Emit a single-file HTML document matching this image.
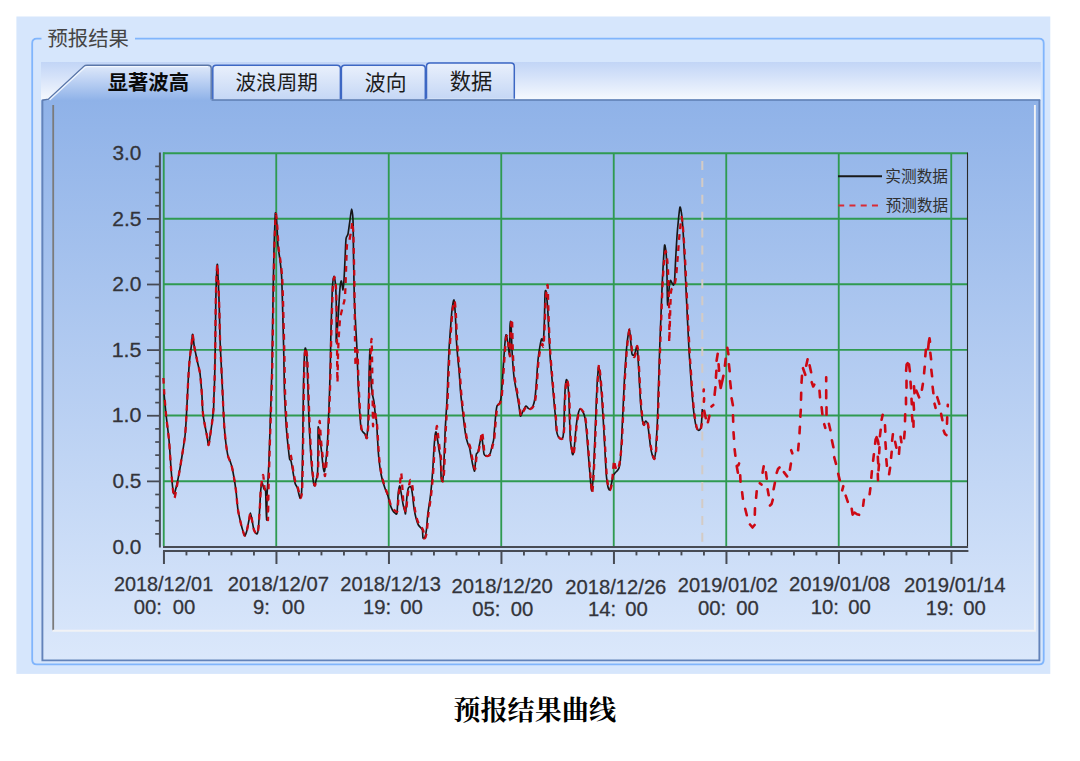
<!DOCTYPE html>
<html lang="zh-CN">
<head>
<meta charset="utf-8">
<title>预报结果曲线</title>
<style>
html,body{margin:0;padding:0;background:#fff}
body{width:1080px;height:761px;position:relative;overflow:hidden;font-family:"Liberation Sans",sans-serif;color:#33343a}
.ov{position:absolute;left:0;top:0;display:block}
</style>
</head>
<body>
<!-- window chrome: group box, tab strip, tab page -->
<svg class="ov" width="1080" height="761" viewBox="0 0 1080 761">
<defs>
<linearGradient id="gs" x1="0" y1="0" x2="0" y2="1"><stop offset="0" stop-color="#c2d5f6"/><stop offset="0.35" stop-color="#d3e1f9"/><stop offset="1" stop-color="#f6f9fe"/></linearGradient>
<linearGradient id="gc" x1="0" y1="0" x2="0" y2="1"><stop offset="0" stop-color="#8fb2e8"/><stop offset="1" stop-color="#dbe8fb"/></linearGradient>
<linearGradient id="gt" x1="0" y1="0" x2="0" y2="1"><stop offset="0" stop-color="#e9f0fc"/><stop offset="0.55" stop-color="#d5e2f8"/><stop offset="1" stop-color="#c5d7f5"/></linearGradient>
<linearGradient id="tg" x1="0" y1="0" x2="0" y2="1"><stop offset="0" stop-color="#dfe9fa"/><stop offset="0.45" stop-color="#bcd1f3"/><stop offset="1" stop-color="#8fb2e8"/></linearGradient>
</defs>
<rect x="16.4" y="16.5" width="1033.9" height="657.4" fill="#d6e6fc"/>
<rect x="41" y="62" width="999.8" height="38" fill="url(#gs)"/>
<rect x="41.5" y="99.5" width="998.6" height="561.6" fill="url(#gc)"/>
<!-- unselected tabs -->
<g fill="url(#gt)" stroke="#3d67c3" stroke-width="1.5">
<path d="M212.8 99.6 V68.6 Q212.8 65.3 216 65.3 H337 Q340.4 65.3 340.4 68.6 V99.6"/>
<path d="M341.4 99.6 V68.6 Q341.4 65.3 344.6 65.3 H422 Q425.3 65.3 425.3 68.6 V99.6"/>
<path d="M426.5 98.8 V66.4 Q426.5 63 429.8 63 H511 Q514.3 63 514.3 66.4 V98.8"/>
</g>
<!-- group box outline with gap for the caption -->
<path d="M41.5 38.6 H36.8 Q32.2 38.6 32.2 43.2 V659.8 Q32.2 664.4 36.8 664.4 H1039.1 Q1043.7 664.4 1043.7 659.8 V43.2 Q1043.7 38.6 1039.1 38.6 H135" fill="none" stroke="#80b5fc" stroke-width="1.8"/>
<!-- tab page border -->
<path d="M42.4 100.2 V660.4 H1039.4 V100.2" fill="none" stroke="#6383ba" stroke-width="1.9"/>
<path d="M211.5 100 H1040.3" fill="none" stroke="#5c7cb2" stroke-width="1.5"/>
<!-- sunken chart control edges -->
<path d="M53.2 105 V630.4" fill="none" stroke="#7b7b7b" stroke-width="1.8"/>
<path d="M52.4 630.8 H1034.9 V105" fill="none" stroke="#f1f2f5" stroke-width="1.9"/>
<!-- selected tab -->
<path d="M42.2 100.4 L48 99.4 L84 66.2 Q85 65.2 87 65.2 L208 65.2 Q211.2 65.2 211.2 68 L211.2 100.4 Z" fill="url(#tg)"/>
<path d="M42.2 100.2 L48.4 99.2 L84 66.2 Q85 65.2 87 65.2 L208 65.2 Q211.2 65.2 211.2 68 L211.2 99.6" fill="none" stroke="#5a76a8" stroke-width="1.4"/>
<path d="M49.6 100 L85 67.2 Q86 66.6 87.4 66.6 L208 66.6" fill="none" stroke="#f4f8fe" stroke-width="1.3" opacity="0.9"/>
</svg>
<svg class="ov" width="1080" height="761" viewBox="0 0 1080 761">
<text x="47.53" y="45.51" font-size="20.35" textLength="81.4" lengthAdjust="spacingAndGlyphs" fill="#454545" font-family="'Liberation Sans','Noto Sans CJK SC',sans-serif">预报结果</text>
<text x="107.69" y="90.38" font-size="20.3" font-weight="bold" textLength="81.3" lengthAdjust="spacingAndGlyphs" fill="#0a0a0a" font-family="'Liberation Sans','Noto Sans CJK SC',sans-serif">显著波高</text>
<text x="235.52" y="89.83" font-size="20.6" textLength="82.4" lengthAdjust="spacingAndGlyphs" fill="#1c1c1c" font-family="'Liberation Sans','Noto Sans CJK SC',sans-serif">波浪周期</text>
<text x="364.81" y="89.73" font-size="20.87" textLength="41.7" lengthAdjust="spacingAndGlyphs" fill="#1c1c1c" font-family="'Liberation Sans','Noto Sans CJK SC',sans-serif">波向</text>
<text x="449.77" y="88.84" font-size="21.37" textLength="42.7" lengthAdjust="spacingAndGlyphs" fill="#1c1c1c" font-family="'Liberation Sans','Noto Sans CJK SC',sans-serif">数据</text>
<g stroke="#2f9a50" stroke-width="1.85" fill="none"><line x1="276.25" y1="153.25" x2="276.25" y2="546" /><line x1="388.75" y1="153.25" x2="388.75" y2="546" /><line x1="501.25" y1="153.25" x2="501.25" y2="546" /><line x1="613.75" y1="153.25" x2="613.75" y2="546" /><line x1="726.25" y1="153.25" x2="726.25" y2="546" /><line x1="838.75" y1="153.25" x2="838.75" y2="546" /><line x1="951.25" y1="153.25" x2="951.25" y2="546" /><line x1="163" y1="153.25" x2="967.50" y2="153.25" /><line x1="163" y1="218.75" x2="967.50" y2="218.75" /><line x1="163" y1="284.25" x2="967.50" y2="284.25" /><line x1="163" y1="349.90" x2="967.50" y2="349.90" /><line x1="163" y1="415.50" x2="967.50" y2="415.50" /><line x1="163" y1="481.25" x2="967.50" y2="481.25" /><line x1="163.75" y1="152.6" x2="163.75" y2="546" /></g>
<line x1="967.50" y1="152.6" x2="967.50" y2="548" stroke="#2a2a2a" stroke-width="1.1"/>
<line x1="702.3" y1="161" x2="702.3" y2="546" stroke="#d3cbc5" stroke-width="2" stroke-dasharray="9 7.9"/>
<path fill="none" stroke="#161616" stroke-width="1.65" stroke-linejoin="round" d="M163.8 391.0C164.1 394.1 165.3 407.5 166.0 414.0C166.7 420.5 168.3 432.8 169.0 440.0C169.7 447.2 170.5 461.9 171.0 468.0C171.5 474.1 172.1 482.5 172.5 486.0C172.9 489.5 173.5 493.7 174.0 494.0C174.5 494.3 175.3 490.7 176.0 488.0C176.7 485.3 178.2 478.3 179.0 474.0C179.8 469.7 181.2 461.1 182.0 456.0C182.8 450.9 184.4 441.3 185.0 436.0C185.6 430.7 186.0 422.9 186.4 416.0C186.8 409.1 187.6 391.5 188.0 384.0C188.4 376.5 189.1 365.3 189.6 360.0C190.1 354.7 191.2 347.4 191.6 344.0C192.0 340.6 192.3 334.1 192.6 334.4C192.9 334.7 193.8 343.4 194.2 346.0C194.6 348.6 195.4 352.1 195.8 354.0C196.2 355.9 196.7 358.4 197.0 360.0C197.3 361.6 198.0 364.4 198.4 366.0C198.8 367.6 199.5 370.3 199.8 372.0C200.1 373.7 200.4 377.1 200.6 379.0C200.8 380.9 201.0 383.7 201.2 386.0C201.4 388.3 201.8 392.5 202.0 396.0C202.2 399.5 202.4 408.0 202.8 412.0C203.2 416.0 204.4 422.8 205.0 426.0C205.6 429.2 206.5 433.5 207.0 436.0C207.5 438.5 208.1 445.3 208.6 445.0C209.1 444.7 209.9 437.3 210.4 434.0C210.9 430.7 212.0 423.5 212.4 420.0C212.8 416.5 213.4 410.7 213.6 408.0C213.8 405.3 213.7 403.7 213.8 400.0C213.9 396.3 214.4 386.7 214.6 380.0C214.8 373.3 215.0 360.7 215.2 350.0C215.4 339.3 215.6 310.1 215.8 300.0C216.0 289.9 216.4 278.7 216.6 274.0C216.8 269.3 217.2 263.1 217.4 264.4C217.6 265.7 218.1 277.7 218.4 284.0C218.7 290.3 219.2 304.8 219.4 312.0C219.6 319.2 219.8 331.6 220.0 338.0C220.2 344.4 220.7 354.4 221.0 360.0C221.3 365.6 221.7 373.9 222.0 380.0C222.3 386.1 222.9 399.6 223.2 406.0C223.5 412.4 224.0 422.9 224.4 428.0C224.8 433.1 225.5 440.3 226.0 444.0C226.5 447.7 227.4 453.6 228.0 456.0C228.6 458.4 229.8 460.3 230.4 462.0C231.0 463.7 231.9 466.6 232.4 469.0C232.9 471.4 233.9 477.1 234.4 480.0C234.9 482.9 235.5 487.0 236.0 491.0C236.5 495.0 237.3 505.6 238.0 510.0C238.7 514.4 240.3 520.9 241.0 524.0C241.7 527.1 243.1 531.5 243.6 533.0C244.1 534.5 244.5 536.0 245.0 535.6C245.5 535.2 246.5 532.1 247.0 530.0C247.5 527.9 248.5 522.3 249.0 520.0C249.5 517.7 250.0 513.0 250.4 513.0C250.8 513.0 251.5 517.7 252.0 520.0C252.5 522.3 253.3 528.1 254.0 530.0C254.7 531.9 256.4 534.3 257.0 534.0C257.6 533.7 258.1 531.2 258.4 528.0C258.7 524.8 259.3 514.8 259.6 510.0C259.9 505.2 260.3 495.6 260.6 492.0C260.9 488.4 261.5 483.4 262.0 483.0C262.5 482.6 263.5 487.9 264.0 489.0C264.5 490.1 265.3 486.9 265.6 491.0C265.9 495.1 266.3 519.9 266.5 520.0C266.7 520.1 267.0 497.3 267.2 492.0C267.4 486.7 267.8 484.3 268.0 480.0C268.2 475.7 268.7 466.7 269.0 460.0C269.3 453.3 269.7 438.0 270.0 430.0C270.3 422.0 270.7 408.7 271.0 400.0C271.3 391.3 271.7 378.3 272.0 365.0C272.3 351.7 272.7 315.3 273.0 300.0C273.3 284.7 273.7 260.7 274.0 250.0C274.3 239.3 274.8 224.9 275.0 220.0C275.2 215.1 275.3 212.2 275.6 213.0C275.9 213.8 276.7 221.6 277.0 226.0C277.3 230.4 277.6 241.5 278.0 246.0C278.4 250.5 279.5 256.0 280.0 260.0C280.5 264.0 281.3 270.7 281.6 276.0C281.9 281.3 282.2 292.8 282.4 300.0C282.6 307.2 283.0 322.7 283.2 330.0C283.4 337.3 283.6 347.0 283.8 355.0C284.0 363.0 284.2 381.9 284.4 390.0C284.6 398.1 285.3 409.9 285.6 416.0C285.9 422.1 286.6 431.6 287.0 436.0C287.4 440.4 288.1 445.9 288.4 449.0C288.7 452.1 289.3 457.4 289.6 459.0C289.9 460.6 290.5 459.3 291.0 461.0C291.5 462.7 292.5 469.1 293.0 472.0C293.5 474.9 294.5 481.0 295.0 483.0C295.5 485.0 296.5 485.8 297.0 487.0C297.5 488.2 298.0 490.5 298.4 492.0C298.8 493.5 299.6 498.0 300.0 498.0C300.4 498.0 301.3 496.4 301.6 492.0C301.9 487.6 302.2 474.6 302.4 465.0C302.6 455.4 302.8 431.3 303.0 420.0C303.2 408.7 303.4 388.5 303.6 380.0C303.8 371.5 304.2 360.3 304.4 356.0C304.6 351.7 305.1 347.5 305.4 348.0C305.7 348.5 306.7 354.4 307.0 360.0C307.3 365.6 307.7 382.0 308.0 390.0C308.3 398.0 308.7 412.3 309.0 420.0C309.3 427.7 310.0 441.3 310.4 448.0C310.8 454.7 311.6 465.5 312.0 470.0C312.4 474.5 313.1 479.9 313.4 482.0C313.7 484.1 314.2 486.0 314.6 485.6C315.0 485.2 316.0 480.8 316.4 479.0C316.8 477.2 317.4 475.9 317.6 472.0C317.8 468.1 317.9 456.0 318.0 450.0C318.1 444.0 317.9 428.3 318.2 427.0C318.5 425.7 319.5 436.7 320.0 440.0C320.5 443.3 321.2 448.5 321.6 452.0C322.0 455.5 322.6 463.4 323.0 466.0C323.4 468.6 324.0 472.4 324.4 471.6C324.8 470.8 325.6 464.2 326.0 460.0C326.4 455.8 327.3 445.9 327.6 440.0C327.9 434.1 328.3 422.7 328.6 416.0C328.9 409.3 329.4 397.5 329.6 390.0C329.8 382.5 330.2 368.0 330.4 360.0C330.6 352.0 330.7 339.6 331.0 330.0C331.3 320.4 332.0 295.1 332.4 288.0C332.8 280.9 333.6 276.7 334.0 276.4C334.4 276.1 335.3 281.5 335.6 286.0C335.9 290.5 336.3 302.5 336.4 310.0C336.5 317.5 336.0 340.7 336.2 342.0C336.4 343.3 337.5 327.2 338.0 320.0C338.5 312.8 339.5 293.2 340.0 288.0C340.5 282.8 341.0 280.7 341.4 281.0C341.8 281.3 342.7 290.1 343.0 290.0C343.3 289.9 343.7 284.0 344.0 280.0C344.3 276.0 344.7 265.5 345.0 260.0C345.3 254.5 345.6 242.5 346.0 239.0C346.4 235.5 347.5 236.5 348.0 234.0C348.5 231.5 349.5 223.3 350.0 220.0C350.5 216.7 351.2 209.0 351.6 209.0C352.0 209.0 352.7 213.2 353.0 220.0C353.3 226.8 353.4 249.3 353.6 260.0C353.8 270.7 354.1 291.5 354.4 300.0C354.7 308.5 355.3 317.3 355.6 324.0C355.9 330.7 356.7 342.5 357.0 350.0C357.3 357.5 357.7 372.0 358.0 380.0C358.3 388.0 359.2 403.6 359.6 410.0C360.0 416.4 360.5 425.1 361.0 428.0C361.5 430.9 362.5 431.2 363.0 432.0C363.5 432.8 364.5 433.2 365.0 434.0C365.5 434.8 366.2 439.3 366.6 438.0C367.0 436.7 367.7 429.1 368.0 424.0C368.3 418.9 368.4 407.2 368.6 400.0C368.8 392.8 369.0 376.8 369.2 370.0C369.4 363.2 369.8 348.7 370.0 349.0C370.2 349.3 370.3 366.3 370.6 372.0C370.9 377.7 371.5 388.0 372.0 392.0C372.5 396.0 373.5 398.5 374.0 402.0C374.5 405.5 375.3 415.6 375.6 418.0C375.9 420.4 376.1 417.1 376.4 420.0C376.7 422.9 377.3 434.7 377.6 440.0C377.9 445.3 378.5 455.5 379.0 460.0C379.5 464.5 380.4 470.8 381.0 474.0C381.6 477.2 382.9 481.7 383.6 484.0C384.3 486.3 385.4 489.4 386.0 491.0C386.6 492.6 387.5 494.3 388.0 496.0C388.5 497.7 389.4 502.1 390.0 504.0C390.6 505.9 391.7 508.8 392.4 510.0C393.1 511.2 394.4 512.6 395.0 513.0C395.6 513.4 396.6 515.3 397.0 513.0C397.4 510.7 397.7 499.6 398.0 496.0C398.3 492.4 399.2 486.5 399.6 486.0C400.0 485.5 400.5 489.6 401.0 492.0C401.5 494.4 402.5 501.3 403.0 504.0C403.5 506.7 404.7 510.8 405.0 512.0C405.3 513.2 405.3 515.1 405.6 513.0C405.9 510.9 406.6 499.3 407.0 496.0C407.4 492.7 407.9 489.2 408.4 488.0C408.9 486.8 410.5 486.2 411.0 487.0C411.5 487.8 412.0 491.2 412.4 494.0C412.8 496.8 413.5 504.8 414.0 508.0C414.5 511.2 415.4 515.7 416.0 518.0C416.6 520.3 417.7 523.7 418.4 525.0C419.1 526.3 420.5 527.3 421.0 528.0C421.5 528.7 422.1 528.7 422.4 530.0C422.7 531.3 422.7 537.1 423.0 538.0C423.3 538.9 424.5 538.1 425.0 537.0C425.5 535.9 426.1 532.8 426.4 530.0C426.7 527.2 427.3 519.2 427.6 516.0C427.9 512.8 428.6 508.7 429.0 506.0C429.4 503.3 430.0 499.5 430.4 496.0C430.8 492.5 431.7 484.0 432.0 480.0C432.3 476.0 432.7 470.3 433.0 466.0C433.3 461.7 433.7 452.0 434.0 448.0C434.3 444.0 434.7 438.1 435.0 436.0C435.3 433.9 435.7 431.5 436.0 432.0C436.3 432.5 437.2 437.6 437.6 440.0C438.0 442.4 438.6 447.6 439.0 450.0C439.4 452.4 440.1 454.3 440.4 458.0C440.7 461.7 440.9 474.9 441.2 478.0C441.5 481.1 442.3 482.1 442.6 481.0C442.9 479.9 443.4 474.1 443.6 470.0C443.8 465.9 444.2 455.3 444.4 450.0C444.6 444.7 445.0 434.5 445.2 430.0C445.4 425.5 445.8 420.0 446.0 416.0C446.2 412.0 446.7 405.6 447.0 400.0C447.3 394.4 447.7 380.7 448.0 374.0C448.3 367.3 448.7 355.9 449.0 350.0C449.3 344.1 450.0 335.3 450.4 330.0C450.8 324.7 451.5 314.0 452.0 310.0C452.5 306.0 453.5 299.2 454.0 300.0C454.5 300.8 455.1 310.7 455.4 316.0C455.7 321.3 456.1 334.7 456.4 340.0C456.7 345.3 457.3 352.0 457.6 356.0C457.9 360.0 458.6 365.5 459.0 370.0C459.4 374.5 460.1 385.7 460.4 390.0C460.7 394.3 461.3 398.8 461.6 402.0C461.9 405.2 462.6 410.8 463.0 414.0C463.4 417.2 464.0 422.9 464.4 426.0C464.8 429.1 465.5 434.6 466.0 437.0C466.5 439.4 467.5 442.5 468.0 444.0C468.5 445.5 469.2 446.4 469.6 448.0C470.0 449.6 470.5 453.6 471.0 456.0C471.5 458.4 472.5 464.0 473.0 466.0C473.5 468.0 474.3 471.8 474.6 471.0C474.9 470.2 475.4 462.3 475.6 460.0C475.8 457.7 476.1 455.1 476.4 454.0C476.7 452.9 477.6 453.3 478.0 452.0C478.4 450.7 479.2 445.9 479.6 444.0C480.0 442.1 480.7 438.8 481.0 438.0C481.3 437.2 481.7 436.9 482.0 438.0C482.3 439.1 482.7 443.9 483.0 446.0C483.3 448.1 483.6 452.7 484.0 454.0C484.4 455.3 485.4 455.8 486.0 456.0C486.6 456.2 487.8 456.0 488.4 455.6C489.0 455.2 489.9 454.3 490.4 453.0C490.9 451.7 491.6 447.7 492.0 446.0C492.4 444.3 493.3 442.1 493.6 440.0C493.9 437.9 494.1 433.2 494.4 430.0C494.7 426.8 495.3 419.2 495.6 416.0C495.9 412.8 496.5 407.7 497.0 406.0C497.5 404.3 499.1 404.1 499.6 403.0C500.1 401.9 500.6 401.1 501.0 398.0C501.4 394.9 502.0 385.6 502.4 380.0C502.8 374.4 503.6 361.6 504.0 356.0C504.4 350.4 505.1 340.8 505.4 338.0C505.7 335.2 506.1 334.2 506.4 335.0C506.7 335.8 507.6 341.5 508.0 344.0C508.4 346.5 509.3 356.4 509.6 354.0C509.9 351.6 509.8 330.1 510.0 326.0C510.2 321.9 510.7 319.8 511.0 323.0C511.3 326.2 511.7 344.3 512.0 350.0C512.3 355.7 512.7 362.0 513.0 366.0C513.3 370.0 513.9 376.3 514.4 380.0C514.9 383.7 516.4 390.5 517.0 394.0C517.6 397.5 518.5 403.1 519.0 406.0C519.5 408.9 519.9 415.3 520.4 416.0C520.9 416.7 522.3 412.3 523.0 411.0C523.7 409.7 525.3 406.4 526.0 406.0C526.7 405.6 527.5 407.6 528.0 408.0C528.5 408.4 529.3 409.3 530.0 409.0C530.7 408.7 532.3 407.5 533.0 406.0C533.7 404.5 534.5 401.2 535.0 398.0C535.5 394.8 536.0 387.1 536.4 382.0C536.8 376.9 537.5 364.8 538.0 360.0C538.5 355.2 539.5 348.8 540.0 346.0C540.5 343.2 541.1 339.8 541.6 339.0C542.1 338.2 543.0 342.5 543.4 340.0C543.8 337.5 544.2 326.1 544.4 320.0C544.6 313.9 544.8 297.9 545.0 294.0C545.2 290.1 545.7 290.2 546.0 291.0C546.3 291.8 546.7 296.9 547.0 300.0C547.3 303.1 547.7 309.2 548.0 314.0C548.3 318.8 548.7 330.7 549.0 336.0C549.3 341.3 549.7 348.9 550.0 354.0C550.3 359.1 551.2 369.2 551.6 374.0C552.0 378.8 552.6 385.7 553.0 390.0C553.4 394.3 554.1 402.5 554.4 406.0C554.7 409.5 555.1 412.8 555.4 416.0C555.7 419.2 556.0 427.2 556.4 430.0C556.8 432.8 557.8 435.8 558.4 437.0C559.0 438.2 560.4 439.0 561.0 439.0C561.6 439.0 562.6 439.0 563.0 437.0C563.4 435.0 563.8 428.9 564.0 424.0C564.2 419.1 564.4 405.3 564.6 400.0C564.8 394.7 565.3 386.7 565.6 384.0C565.9 381.3 566.3 379.3 566.6 379.6C566.9 379.9 567.7 383.3 568.0 386.0C568.3 388.7 568.8 395.5 569.0 400.0C569.2 404.5 569.4 414.7 569.6 420.0C569.8 425.3 570.1 435.7 570.4 440.0C570.7 444.3 571.7 450.1 572.0 452.0C572.3 453.9 572.7 455.2 573.0 454.4C573.3 453.6 574.1 449.0 574.4 446.0C574.7 443.0 575.3 435.5 575.6 432.0C575.9 428.5 576.6 422.5 577.0 420.0C577.4 417.5 578.0 414.5 578.4 413.0C578.8 411.5 579.4 409.1 580.0 409.0C580.6 408.9 582.3 410.8 583.0 412.0C583.7 413.2 584.5 415.6 585.0 418.0C585.5 420.4 586.0 425.7 586.4 430.0C586.8 434.3 587.6 444.7 588.0 450.0C588.4 455.3 589.2 465.2 589.6 470.0C590.0 474.8 590.7 483.3 591.0 486.0C591.3 488.7 591.5 491.3 591.8 490.5C592.1 489.7 592.7 484.1 593.0 480.0C593.3 475.9 593.7 465.9 594.0 460.0C594.3 454.1 594.7 442.7 595.0 436.0C595.3 429.3 595.7 416.7 596.0 410.0C596.3 403.3 596.7 391.1 597.0 386.0C597.3 380.9 597.8 374.5 598.0 372.0C598.2 369.5 598.5 365.9 598.8 367.0C599.1 368.1 600.0 375.6 600.4 380.0C600.8 384.4 601.6 393.9 602.0 400.0C602.4 406.1 603.2 419.1 603.6 426.0C604.0 432.9 604.6 445.3 605.0 452.0C605.4 458.7 606.0 471.3 606.4 476.0C606.8 480.7 607.6 485.2 608.0 487.0C608.4 488.8 609.1 490.2 609.6 489.8C610.1 489.4 610.9 485.8 611.4 484.0C611.9 482.2 612.5 477.5 613.0 476.0C613.5 474.5 614.5 473.7 615.0 473.0C615.5 472.3 616.5 471.7 617.0 471.0C617.5 470.3 618.5 469.5 619.0 468.0C619.5 466.5 620.1 463.7 620.4 460.0C620.7 456.3 621.3 446.7 621.6 440.0C621.9 433.3 622.6 418.0 623.0 410.0C623.4 402.0 624.0 387.2 624.4 380.0C624.8 372.8 625.7 360.8 626.0 356.0C626.3 351.2 626.7 346.7 627.0 344.0C627.3 341.3 627.7 337.9 628.0 336.0C628.3 334.1 629.0 328.5 629.4 329.6C629.8 330.7 630.7 340.7 631.0 344.0C631.3 347.3 631.6 352.5 632.0 354.0C632.4 355.5 633.5 355.4 634.0 355.0C634.5 354.6 635.3 352.1 635.6 351.0C635.9 349.9 636.3 346.6 636.6 346.5C636.9 346.4 637.4 347.7 637.6 350.0C637.8 352.3 638.1 359.2 638.4 364.0C638.7 368.8 639.3 380.1 639.6 386.0C639.9 391.9 640.6 403.5 641.0 408.0C641.4 412.5 642.1 417.7 642.4 420.0C642.7 422.3 643.2 424.9 643.6 425.0C644.0 425.1 645.1 421.1 645.6 421.0C646.1 420.9 647.1 422.3 647.6 424.0C648.1 425.7 648.6 431.1 649.0 434.0C649.4 436.9 650.0 443.3 650.4 446.0C650.8 448.7 651.5 452.3 652.0 454.0C652.5 455.7 653.5 459.1 654.0 458.8C654.5 458.5 655.3 455.0 655.6 452.0C655.9 449.0 656.3 440.8 656.6 436.0C656.9 431.2 657.4 422.1 657.6 416.0C657.8 409.9 658.2 396.9 658.4 390.0C658.6 383.1 659.0 370.7 659.2 364.0C659.4 357.3 659.8 345.2 660.0 340.0C660.2 334.8 660.4 329.8 660.6 325.0C660.8 320.2 661.2 310.0 661.4 304.0C661.6 298.0 662.1 286.1 662.4 280.0C662.7 273.9 663.3 262.7 663.6 258.0C663.9 253.3 664.3 245.8 664.6 245.0C664.9 244.2 665.7 249.2 666.0 252.0C666.3 254.8 666.6 260.9 666.8 266.0C667.0 271.1 667.1 284.8 667.2 290.0C667.3 295.2 667.4 304.5 667.6 305.0C667.8 305.5 668.3 296.8 668.6 294.0C668.9 291.2 669.3 285.8 669.6 284.0C669.9 282.2 670.3 280.5 670.6 280.4C670.9 280.3 671.6 282.4 672.0 283.0C672.4 283.6 673.3 285.4 673.6 285.0C673.9 284.6 674.3 283.3 674.6 280.0C674.9 276.7 675.3 265.9 675.6 260.0C675.9 254.1 676.6 241.6 677.0 236.0C677.4 230.4 678.2 221.9 678.6 218.0C679.0 214.1 679.6 207.5 680.0 207.0C680.4 206.5 681.2 210.9 681.6 214.0C682.0 217.1 682.6 224.4 683.0 230.0C683.4 235.6 684.1 249.3 684.4 256.0C684.7 262.7 685.3 272.8 685.6 280.0C685.9 287.2 686.7 303.3 687.0 310.0C687.3 316.7 687.7 324.7 688.0 330.0C688.3 335.3 688.8 345.7 689.0 350.0C689.2 354.3 689.5 358.0 689.8 362.0C690.1 366.0 690.7 375.2 691.0 380.0C691.3 384.8 692.0 393.5 692.4 398.0C692.8 402.5 693.5 410.3 694.0 414.0C694.5 417.7 695.5 423.9 696.0 426.0C696.5 428.1 697.5 429.5 698.0 430.0C698.5 430.5 699.5 430.4 700.0 429.6C700.5 428.8 701.1 426.7 701.4 424.0C701.7 421.3 702.2 411.0 702.3 409.0"/>
<path fill="none" stroke="#c80913" stroke-width="2.3" stroke-linejoin="round" stroke-dasharray="5.7 5.3" d="M163.4 378.0C163.5 379.9 163.9 387.2 164.2 392.0C164.5 396.8 165.4 407.6 166.0 414.0C166.6 420.4 168.3 432.8 169.0 440.0C169.7 447.2 170.5 461.3 171.0 468.0C171.5 474.7 172.5 486.0 173.0 490.0C173.5 494.0 173.9 498.1 174.4 498.0C174.9 497.9 175.8 492.2 176.4 489.0C177.0 485.8 178.3 478.4 179.0 474.0C179.7 469.6 181.2 461.1 182.0 456.0C182.8 450.9 184.4 441.3 185.0 436.0C185.6 430.7 186.0 422.9 186.4 416.0C186.8 409.1 187.6 391.5 188.0 384.0C188.4 376.5 189.1 365.3 189.6 360.0C190.1 354.7 191.2 347.4 191.6 344.0C192.0 340.6 192.3 334.1 192.6 334.4C192.9 334.7 193.8 343.4 194.2 346.0C194.6 348.6 195.4 352.1 195.8 354.0C196.2 355.9 196.7 358.4 197.0 360.0C197.3 361.6 198.0 364.4 198.4 366.0C198.8 367.6 199.5 370.3 199.8 372.0C200.1 373.7 200.4 377.1 200.6 379.0C200.8 380.9 201.0 383.7 201.2 386.0C201.4 388.3 201.8 392.5 202.0 396.0C202.2 399.5 202.4 408.0 202.8 412.0C203.2 416.0 204.4 422.8 205.0 426.0C205.6 429.2 206.5 433.5 207.0 436.0C207.5 438.5 208.1 445.3 208.6 445.0C209.1 444.7 209.9 437.3 210.4 434.0C210.9 430.7 212.0 423.5 212.4 420.0C212.8 416.5 213.4 410.7 213.6 408.0C213.8 405.3 213.7 403.7 213.8 400.0C213.9 396.3 214.4 386.7 214.6 380.0C214.8 373.3 215.0 360.7 215.2 350.0C215.4 339.3 215.6 310.1 215.8 300.0C216.0 289.9 216.4 278.7 216.6 274.0C216.8 269.3 217.2 263.1 217.4 264.4C217.6 265.7 218.1 277.7 218.4 284.0C218.7 290.3 219.2 304.8 219.4 312.0C219.6 319.2 219.8 331.6 220.0 338.0C220.2 344.4 220.7 354.4 221.0 360.0C221.3 365.6 221.7 373.9 222.0 380.0C222.3 386.1 222.9 399.6 223.2 406.0C223.5 412.4 224.0 422.9 224.4 428.0C224.8 433.1 225.5 440.3 226.0 444.0C226.5 447.7 227.4 453.6 228.0 456.0C228.6 458.4 229.8 460.3 230.4 462.0C231.0 463.7 231.9 466.6 232.4 469.0C232.9 471.4 233.9 477.1 234.4 480.0C234.9 482.9 235.5 487.0 236.0 491.0C236.5 495.0 237.3 505.6 238.0 510.0C238.7 514.4 240.3 520.9 241.0 524.0C241.7 527.1 243.1 531.5 243.6 533.0C244.1 534.5 244.5 536.0 245.0 535.6C245.5 535.2 246.5 532.1 247.0 530.0C247.5 527.9 248.5 522.3 249.0 520.0C249.5 517.7 250.0 513.0 250.4 513.0C250.8 513.0 251.5 517.7 252.0 520.0C252.5 522.3 253.3 528.1 254.0 530.0C254.7 531.9 256.4 534.3 257.0 534.0C257.6 533.7 258.0 531.5 258.4 528.0C258.8 524.5 259.5 513.1 259.8 508.0C260.1 502.9 260.4 494.4 260.8 490.0C261.2 485.6 262.5 475.3 263.0 475.0C263.5 474.7 264.2 485.7 264.6 488.0C265.0 490.3 265.6 490.4 266.0 492.0C266.4 493.6 267.3 496.3 267.6 500.0C267.9 503.7 267.9 521.9 268.0 520.0C268.1 518.1 268.4 494.0 268.6 486.0C268.8 478.0 269.2 467.5 269.4 460.0C269.6 452.5 270.0 438.0 270.3 430.0C270.6 422.0 271.0 408.7 271.3 400.0C271.6 391.3 272.0 378.3 272.3 365.0C272.6 351.7 273.0 315.3 273.3 300.0C273.6 284.7 274.0 260.4 274.3 250.0C274.6 239.6 275.1 226.8 275.3 222.0C275.5 217.2 275.7 213.2 276.0 214.0C276.3 214.8 277.1 223.5 277.4 228.0C277.7 232.5 278.2 243.5 278.6 248.0C279.0 252.5 280.1 258.0 280.6 262.0C281.1 266.0 281.9 272.9 282.2 278.0C282.5 283.1 282.8 293.1 283.0 300.0C283.2 306.9 283.6 322.7 283.8 330.0C284.0 337.3 284.2 347.0 284.4 355.0C284.6 363.0 284.8 381.9 285.0 390.0C285.2 398.1 285.9 409.9 286.2 416.0C286.5 422.1 287.2 431.6 287.6 436.0C288.0 440.4 288.5 446.3 289.0 449.0C289.5 451.7 290.6 454.3 291.0 456.0C291.4 457.7 291.7 459.7 292.0 462.0C292.3 464.3 293.1 470.2 293.6 473.0C294.1 475.8 295.1 481.1 295.6 483.0C296.1 484.9 297.1 485.8 297.6 487.0C298.1 488.2 298.6 490.5 299.0 492.0C299.4 493.5 300.0 498.0 300.4 498.0C300.8 498.0 301.7 496.4 302.0 492.0C302.3 487.6 302.6 474.6 302.8 465.0C303.0 455.4 303.2 431.3 303.4 420.0C303.6 408.7 303.8 388.5 304.0 380.0C304.2 371.5 304.6 360.3 304.8 356.0C305.0 351.7 305.5 347.5 305.8 348.0C306.1 348.5 307.1 354.4 307.4 360.0C307.7 365.6 308.1 382.0 308.4 390.0C308.7 398.0 309.1 412.3 309.4 420.0C309.7 427.7 310.4 441.3 310.8 448.0C311.2 454.7 312.0 465.5 312.4 470.0C312.8 474.5 313.5 479.9 313.8 482.0C314.1 484.1 314.6 486.0 315.0 485.6C315.4 485.2 316.4 480.8 316.8 479.0C317.2 477.2 317.8 475.9 318.0 472.0C318.2 468.1 318.4 456.8 318.6 450.0C318.8 443.2 319.3 422.3 319.6 421.0C319.9 419.7 320.6 435.6 321.0 440.0C321.4 444.4 322.0 450.3 322.4 454.0C322.8 457.7 323.7 465.1 324.0 468.0C324.3 470.9 324.7 476.8 325.0 476.0C325.3 475.2 326.2 466.8 326.6 462.0C327.0 457.2 327.7 446.1 328.0 440.0C328.3 433.9 328.7 422.7 329.0 416.0C329.3 409.3 329.8 397.5 330.0 390.0C330.2 382.5 330.6 368.0 330.8 360.0C331.0 352.0 331.1 339.6 331.4 330.0C331.7 320.4 332.4 295.1 332.8 288.0C333.2 280.9 334.0 277.0 334.4 277.0C334.8 277.0 335.7 282.3 336.0 288.0C336.3 293.7 336.6 307.5 336.8 320.0C337.0 332.5 337.2 378.1 337.4 382.0C337.6 385.9 337.9 357.3 338.2 349.0C338.5 340.7 339.4 325.7 340.0 320.0C340.6 314.3 342.3 309.2 343.0 306.0C343.7 302.8 344.5 302.1 345.0 296.0C345.5 289.9 346.1 266.8 346.4 260.0C346.7 253.2 346.7 247.4 347.0 245.0C347.3 242.6 348.5 243.7 349.0 242.0C349.5 240.3 350.5 234.7 351.0 232.0C351.5 229.3 352.1 221.6 352.4 222.0C352.7 222.4 353.2 229.7 353.4 235.0C353.6 240.3 353.8 253.3 354.0 262.0C354.2 270.7 354.5 289.6 354.6 300.0C354.7 310.4 354.9 331.2 355.0 340.0C355.1 348.8 355.3 364.7 355.6 366.0C355.9 367.3 357.0 348.1 357.4 350.0C357.8 351.9 358.1 372.0 358.4 380.0C358.7 388.0 359.6 403.6 360.0 410.0C360.4 416.4 360.9 425.1 361.4 428.0C361.9 430.9 362.9 431.2 363.4 432.0C363.9 432.8 364.9 433.2 365.4 434.0C365.9 434.8 366.6 439.3 367.0 438.0C367.4 436.7 368.1 429.1 368.4 424.0C368.7 418.9 368.8 407.2 369.0 400.0C369.2 392.8 369.5 378.1 369.8 370.0C370.1 361.9 371.3 337.7 371.6 339.0C371.9 340.3 372.2 368.4 372.4 380.0C372.6 391.6 372.8 422.7 373.0 426.0C373.2 429.3 373.6 406.1 374.0 405.0C374.4 403.9 375.6 415.5 376.0 418.0C376.4 420.5 376.7 421.1 377.0 424.0C377.3 426.9 377.7 435.2 378.0 440.0C378.3 444.8 378.9 455.5 379.4 460.0C379.9 464.5 380.8 470.8 381.4 474.0C382.0 477.2 383.3 481.7 384.0 484.0C384.7 486.3 385.8 489.4 386.4 491.0C387.0 492.6 387.9 494.3 388.4 496.0C388.9 497.7 389.8 502.3 390.4 504.0C391.0 505.7 392.1 508.1 392.8 509.0C393.5 509.9 394.8 510.7 395.4 511.0C396.0 511.3 397.0 513.0 397.4 511.0C397.8 509.0 398.3 499.6 398.6 496.0C398.9 492.4 399.7 487.1 400.0 484.0C400.3 480.9 400.9 472.5 401.2 473.0C401.5 473.5 402.1 483.9 402.4 488.0C402.7 492.1 403.2 500.9 403.6 504.0C404.0 507.1 405.1 510.1 405.4 511.0C405.7 511.9 405.9 513.0 406.2 511.0C406.5 509.0 407.2 499.3 407.6 496.0C408.0 492.7 408.6 488.1 409.0 486.0C409.4 483.9 409.9 480.0 410.4 480.0C410.9 480.0 412.0 483.6 412.4 486.0C412.8 488.4 413.3 494.8 413.6 498.0C413.9 501.2 414.5 507.2 415.0 510.0C415.5 512.8 416.4 517.0 417.0 519.0C417.6 521.0 418.7 523.8 419.4 525.0C420.1 526.2 421.5 527.2 422.0 528.0C422.5 528.8 423.1 529.7 423.4 531.0C423.7 532.3 423.7 537.2 424.0 538.0C424.3 538.8 425.2 538.1 425.6 537.0C426.0 535.9 426.7 532.8 427.0 530.0C427.3 527.2 427.9 519.2 428.2 516.0C428.5 512.8 429.2 508.7 429.6 506.0C430.0 503.3 430.6 499.5 431.0 496.0C431.4 492.5 432.3 484.0 432.6 480.0C432.9 476.0 433.3 470.3 433.6 466.0C433.9 461.7 434.3 452.3 434.6 448.0C434.9 443.7 435.5 436.9 435.8 434.0C436.1 431.1 436.7 425.5 437.0 426.0C437.3 426.5 438.0 434.8 438.4 438.0C438.8 441.2 439.5 447.3 439.8 450.0C440.1 452.7 440.7 454.3 441.0 458.0C441.3 461.7 441.5 474.9 441.8 478.0C442.1 481.1 442.9 482.1 443.2 481.0C443.5 479.9 444.0 474.1 444.2 470.0C444.4 465.9 444.8 455.3 445.0 450.0C445.2 444.7 445.6 434.5 445.8 430.0C446.0 425.5 446.4 420.0 446.6 416.0C446.8 412.0 447.3 405.6 447.6 400.0C447.9 394.4 448.3 380.7 448.6 374.0C448.9 367.3 449.3 355.9 449.6 350.0C449.9 344.1 450.6 335.3 451.0 330.0C451.4 324.7 452.1 313.9 452.6 310.0C453.1 306.1 454.1 300.2 454.6 301.0C455.1 301.8 455.7 310.8 456.0 316.0C456.3 321.2 456.7 334.7 457.0 340.0C457.3 345.3 457.9 352.0 458.2 356.0C458.5 360.0 459.2 365.5 459.6 370.0C460.0 374.5 460.7 385.7 461.0 390.0C461.3 394.3 461.9 398.8 462.2 402.0C462.5 405.2 463.2 410.8 463.6 414.0C464.0 417.2 464.6 422.9 465.0 426.0C465.4 429.1 466.1 434.7 466.6 437.0C467.1 439.3 468.1 441.7 468.6 443.0C469.1 444.3 469.8 445.4 470.2 447.0C470.6 448.6 471.1 452.6 471.6 455.0C472.1 457.4 473.1 463.1 473.6 465.0C474.1 466.9 474.9 469.7 475.2 469.0C475.5 468.3 476.0 462.0 476.2 460.0C476.4 458.0 476.7 455.2 477.0 454.0C477.3 452.8 478.2 452.5 478.6 451.0C479.0 449.5 479.7 445.5 480.2 443.0C480.7 440.5 481.5 431.9 482.0 432.0C482.5 432.1 483.3 441.1 483.6 444.0C483.9 446.9 484.2 452.4 484.6 454.0C485.0 455.6 486.0 455.8 486.6 456.0C487.2 456.2 488.4 456.0 489.0 455.6C489.6 455.2 490.5 454.3 491.0 453.0C491.5 451.7 492.2 447.7 492.6 446.0C493.0 444.3 493.9 442.1 494.2 440.0C494.5 437.9 494.7 433.2 495.0 430.0C495.3 426.8 495.9 419.2 496.2 416.0C496.5 412.8 497.1 407.7 497.6 406.0C498.1 404.3 499.7 404.1 500.2 403.0C500.7 401.9 501.2 401.1 501.6 398.0C502.0 394.9 502.6 385.6 503.0 380.0C503.4 374.4 504.2 361.5 504.6 356.0C505.0 350.5 505.7 341.7 506.0 339.0C506.3 336.3 506.7 335.2 507.0 336.0C507.3 336.8 508.2 342.3 508.6 345.0C509.0 347.7 509.7 358.0 510.0 356.0C510.3 354.0 510.5 334.9 510.8 330.0C511.1 325.1 511.7 316.9 512.0 319.6C512.3 322.3 512.6 343.8 512.8 350.0C513.0 356.2 513.3 362.0 513.6 366.0C513.9 370.0 514.5 376.3 515.0 380.0C515.5 383.7 517.0 390.5 517.6 394.0C518.2 397.5 519.1 403.1 519.6 406.0C520.1 408.9 520.5 415.3 521.0 416.0C521.5 416.7 522.9 412.3 523.6 411.0C524.3 409.7 525.9 406.4 526.6 406.0C527.3 405.6 528.1 407.6 528.6 408.0C529.1 408.4 529.9 409.3 530.6 409.0C531.3 408.7 532.9 407.5 533.6 406.0C534.3 404.5 535.1 401.2 535.6 398.0C536.1 394.8 536.6 387.1 537.0 382.0C537.4 376.9 538.1 364.5 538.6 360.0C539.1 355.5 540.1 350.1 540.6 348.0C541.1 345.9 542.0 344.3 542.4 344.0C542.8 343.7 543.3 348.9 543.6 346.0C543.9 343.1 544.5 328.4 544.8 322.0C545.1 315.6 545.4 302.9 545.8 298.0C546.2 293.1 547.3 283.4 547.6 285.0C547.9 286.6 548.2 303.2 548.4 310.0C548.6 316.8 549.1 330.1 549.4 336.0C549.7 341.9 550.1 348.9 550.4 354.0C550.7 359.1 551.6 369.2 552.0 374.0C552.4 378.8 553.0 385.7 553.4 390.0C553.8 394.3 554.5 402.5 554.8 406.0C555.1 409.5 555.5 412.8 555.8 416.0C556.1 419.2 556.4 427.2 556.8 430.0C557.2 432.8 558.2 435.8 558.8 437.0C559.4 438.2 560.8 439.0 561.4 439.0C562.0 439.0 563.0 439.0 563.4 437.0C563.8 435.0 564.2 428.9 564.4 424.0C564.6 419.1 564.8 405.3 565.0 400.0C565.2 394.7 565.7 386.7 566.0 384.0C566.3 381.3 566.7 379.3 567.0 379.6C567.3 379.9 568.1 383.3 568.4 386.0C568.7 388.7 569.2 395.5 569.4 400.0C569.6 404.5 569.8 414.7 570.0 420.0C570.2 425.3 570.5 435.7 570.8 440.0C571.1 444.3 572.1 450.0 572.4 452.0C572.7 454.0 573.1 455.8 573.4 455.0C573.7 454.2 574.5 449.1 574.8 446.0C575.1 442.9 575.7 435.5 576.0 432.0C576.3 428.5 577.0 422.5 577.4 420.0C577.8 417.5 578.4 414.5 578.8 413.0C579.2 411.5 579.8 409.1 580.4 409.0C581.0 408.9 582.7 410.8 583.4 412.0C584.1 413.2 584.9 415.6 585.4 418.0C585.9 420.4 586.4 425.7 586.8 430.0C587.2 434.3 588.0 444.7 588.4 450.0C588.8 455.3 589.6 465.2 590.0 470.0C590.4 474.8 591.1 482.9 591.4 486.0C591.7 489.1 591.9 493.8 592.2 493.0C592.5 492.2 593.1 484.4 593.4 480.0C593.7 475.6 594.1 465.9 594.4 460.0C594.7 454.1 595.1 442.7 595.4 436.0C595.7 429.3 596.1 416.7 596.4 410.0C596.7 403.3 597.1 391.3 597.4 386.0C597.7 380.7 598.2 372.8 598.4 370.0C598.6 367.2 598.9 363.7 599.2 365.0C599.5 366.3 600.4 375.3 600.8 380.0C601.2 384.7 602.0 393.9 602.4 400.0C602.8 406.1 603.6 419.1 604.0 426.0C604.4 432.9 605.0 445.3 605.4 452.0C605.8 458.7 606.4 471.3 606.8 476.0C607.2 480.7 608.0 485.1 608.4 487.0C608.8 488.9 609.5 490.4 610.0 490.0C610.5 489.6 611.4 486.5 611.8 484.0C612.2 481.5 612.7 474.1 613.0 471.0C613.3 467.9 613.8 461.2 614.1 460.5C614.4 459.8 614.8 464.7 615.2 466.0C615.6 467.3 616.3 469.9 616.8 470.0C617.3 470.1 618.2 468.3 618.6 467.0C619.0 465.7 619.7 462.5 620.0 460.5C620.3 458.5 620.7 454.7 621.0 452.0C621.3 449.3 621.7 445.6 622.0 440.0C622.3 434.4 623.0 418.0 623.4 410.0C623.8 402.0 624.4 387.2 624.8 380.0C625.2 372.8 626.1 360.8 626.4 356.0C626.7 351.2 627.1 346.7 627.4 344.0C627.7 341.3 628.1 337.9 628.4 336.0C628.7 334.1 629.4 328.5 629.8 329.6C630.2 330.7 631.1 340.7 631.4 344.0C631.7 347.3 632.0 352.3 632.4 354.0C632.8 355.7 633.9 357.3 634.4 357.0C634.9 356.7 635.7 353.5 636.0 352.0C636.3 350.5 636.7 346.3 637.0 346.0C637.3 345.7 637.8 347.6 638.0 350.0C638.2 352.4 638.5 359.2 638.8 364.0C639.1 368.8 639.7 380.1 640.0 386.0C640.3 391.9 641.0 403.5 641.4 408.0C641.8 412.5 642.5 417.7 642.8 420.0C643.1 422.3 643.6 424.9 644.0 425.0C644.4 425.1 645.5 421.1 646.0 421.0C646.5 420.9 647.5 422.3 648.0 424.0C648.5 425.7 649.0 431.1 649.4 434.0C649.8 436.9 650.4 443.3 650.8 446.0C651.2 448.7 651.9 452.3 652.4 454.0C652.9 455.7 653.9 459.3 654.4 459.0C654.9 458.7 655.7 455.1 656.0 452.0C656.3 448.9 656.7 440.8 657.0 436.0C657.3 431.2 657.8 422.1 658.0 416.0C658.2 409.9 658.6 396.9 658.8 390.0C659.0 383.1 659.4 370.7 659.6 364.0C659.8 357.3 660.2 345.2 660.4 340.0C660.6 334.8 660.8 329.8 661.0 325.0C661.2 320.2 661.6 310.0 661.8 304.0C662.0 298.0 662.5 285.6 662.8 280.0C663.1 274.4 663.6 265.9 664.0 262.0C664.4 258.1 665.2 251.5 665.6 251.0C666.0 250.5 666.7 255.5 667.0 258.0C667.3 260.5 667.7 263.9 668.0 270.0C668.3 276.1 668.8 297.3 669.0 304.0C669.2 310.7 669.4 314.9 669.4 320.0C669.4 325.1 669.1 342.0 669.2 342.0C669.3 342.0 669.8 326.7 670.0 320.0C670.2 313.3 670.6 296.4 671.0 292.0C671.4 287.6 672.5 288.2 673.0 287.0C673.5 285.8 674.6 284.6 675.0 283.0C675.4 281.4 675.9 277.3 676.2 275.0C676.5 272.7 676.8 268.8 677.0 266.0C677.2 263.2 677.7 257.5 678.0 254.0C678.3 250.5 678.7 243.2 679.0 240.0C679.3 236.8 679.7 233.1 680.0 230.0C680.3 226.9 681.3 217.8 681.6 217.0C681.9 216.2 682.3 221.5 682.6 224.0C682.9 226.5 683.3 231.5 683.6 236.0C683.9 240.5 684.7 251.9 685.0 258.0C685.3 264.1 685.9 274.8 686.2 282.0C686.5 289.2 687.3 305.3 687.6 312.0C687.9 318.7 688.3 326.7 688.6 332.0C688.9 337.3 689.4 347.7 689.6 352.0C689.8 356.3 690.1 360.0 690.4 364.0C690.7 368.0 691.3 377.2 691.6 382.0C691.9 386.8 692.6 395.5 693.0 400.0C693.4 404.5 694.1 412.4 694.6 416.0C695.1 419.6 696.1 425.0 696.6 427.0C697.1 429.0 698.1 430.6 698.6 431.0C699.1 431.4 700.0 430.9 700.4 430.0C700.8 429.1 701.5 426.7 701.8 424.0C702.1 421.3 702.5 411.9 702.6 410.0"/>
<path fill="none" stroke="#cd0914" stroke-width="2.6" stroke-linejoin="round" stroke-linecap="round" d="M703.8 389.5L703.6 391.3M704.1 398.2L703.9 401.8M704.2 410.7L705.8 418.3M707.9 422.3L709.4 415.7M711.5 406.5L713.3 405.0M714.6 394.8L715.4 387.2M715.9 377.8L716.4 370.7M716.6 360.8L717.7 353.7M718.6 364.2L719.1 370.8M719.6 380.7L720.7 388.0L722.2 381.5L723.4 375.7M724.9 365.8L725.7 358.7M727.3 347.7L728.4 354.3M728.9 364.2L729.7 371.3M730.1 381.2L730.9 388.3M731.6 398.2L732.9 405.3M733.0 415.2L733.2 421.8M733.5 432.2L734.0 438.8M734.6 449.2L735.4 455.8M739.1 463.4L738.4 465.2L736.7 466.0L737.9 472.8M740.2 475.2L740.5 481.8M742.1 492.2L742.9 498.8M745.2 508.7L746.8 515.3M750.0 524.5L752.5 527.5L754.6 525.0M754.8 514.8L755.0 508.2M756.1 497.8L756.7 491.2M759.8 483.2L761.5 484.6M762.6 472.8L763.7 466.2M765.9 472.2L766.7 478.8M767.6 489.2L768.7 495.3M770.0 505.5L771.6 504.0L772.8 499.7M773.6 489.3L774.9 482.7M776.7 472.8L778.0 469.0L779.5 467.5M783.9 472.1L787.1 476.4M789.9 469.8L790.9 463.5M791.2 450.2L792.3 453.3M798.1 450.3L798.7 443.7M799.5 433.3L799.9 426.7M800.3 416.8L800.8 409.7M801.0 399.8L801.2 392.7M801.5 382.8L802.0 375.7M803.0 368.2L805.3 374.8M806.2 365.8L807.6 359.2M809.6 365.2L811.1 372.3M811.7 382.2L813.2 386.5L814.3 384.6M819.5 390.7L820.0 397.3M821.6 407.2L822.4 414.3M824.2 424.2L825.3 427.8M826.2 377.2L826.2 381.3M826.2 390.2L826.2 398.3M826.5 407.2L826.5 414.8M828.9 423.7L830.4 430.3M831.9 440.2L833.4 447.3M834.2 457.2L836.0 463.8M838.2 473.7L839.8 480.3M842.2 490.3L843.3 486.2M845.7 495.7L847.8 501.8M851.7 508.7L852.6 514.6L854.5 512.5L857.0 514.2L859.1 514.8M863.1 505.8L863.9 499.7M869.6 494.3L870.4 488.2M871.3 477.8L871.9 471.2M873.1 460.8L873.9 454.2M875.1 443.8L875.6 439.5L876.6 437.2L878.0 441.0L878.5 444.3M879.5 447.2L879.2 453.3M877.8 456.7L878.2 463.3M879.0 464.2L878.5 470.3M877.8 473.7L878.0 480.3M879.9 436.3L880.7 429.7M881.6 419.8L882.7 414.7M885.0 425.2L885.3 431.8M885.4 442.2L885.9 448.8M886.3 459.2L886.9 465.8M889.1 474.3L890.1 467.7M891.1 457.8L891.7 451.7M892.1 440.8L892.9 434.2M895.1 441.7L896.4 447.8M899.0 453.8L899.5 447.2M900.6 436.7L901.4 442.3M904.1 438.3L904.7 431.7M905.0 421.3L905.2 414.2M906.0 404.3L906.0 397.7M906.5 387.8L906.5 380.7M906.1 370.8L906.6 364.5L907.6 363.2L909.0 364.5L909.9 371.3M910.5 381.7L911.0 388.3M911.5 398.7L911.8 404.3M912.0 415.2L912.5 421.3M913.5 426.8L913.5 420.7M914.0 409.8L913.5 402.7M914.5 393.3L914.0 386.2M916.3 390.6L919.2 397.4M921.9 389.8L922.9 383.7M924.1 373.3L924.7 366.7M925.3 356.3L925.9 349.7M928.1 348.8L928.8 342.0L929.5 338.2L930.0 341.8M930.3 352.7L931.1 359.3M931.3 369.7L932.1 376.3M932.6 386.7L933.4 393.3M934.5 403.7L935.6 407.8M937.2 397.2L939.3 403.8M941.1 413.7L942.4 420.3M943.7 430.7L945.0 434.0L946.4 435.1M947.0 423.8L947.2 417.2M947.7 406.3L947.8 404.9"/>
<g stroke="#474b54" fill="none"><line x1="159.9" y1="152.6" x2="159.9" y2="547.5" stroke-width="2"/><line x1="163" y1="547" x2="968" y2="547" stroke-width="2.1"/><line x1="163" y1="551" x2="968.4" y2="551" stroke-width="2"/><line x1="155.2" y1="533.88" x2="160" y2="533.88" stroke-width="1.7"/><line x1="155.2" y1="520.75" x2="160" y2="520.75" stroke-width="1.7"/><line x1="155.2" y1="507.62" x2="160" y2="507.62" stroke-width="1.7"/><line x1="155.2" y1="494.50" x2="160" y2="494.50" stroke-width="1.7"/><line x1="147" y1="481.38" x2="160" y2="481.38" stroke-width="1.8"/><line x1="155.2" y1="468.25" x2="160" y2="468.25" stroke-width="1.7"/><line x1="155.2" y1="455.12" x2="160" y2="455.12" stroke-width="1.7"/><line x1="155.2" y1="442.00" x2="160" y2="442.00" stroke-width="1.7"/><line x1="155.2" y1="428.88" x2="160" y2="428.88" stroke-width="1.7"/><line x1="147" y1="415.75" x2="160" y2="415.75" stroke-width="1.8"/><line x1="155.2" y1="402.62" x2="160" y2="402.62" stroke-width="1.7"/><line x1="155.2" y1="389.50" x2="160" y2="389.50" stroke-width="1.7"/><line x1="155.2" y1="376.38" x2="160" y2="376.38" stroke-width="1.7"/><line x1="155.2" y1="363.25" x2="160" y2="363.25" stroke-width="1.7"/><line x1="147" y1="350.12" x2="160" y2="350.12" stroke-width="1.8"/><line x1="155.2" y1="337.00" x2="160" y2="337.00" stroke-width="1.7"/><line x1="155.2" y1="323.88" x2="160" y2="323.88" stroke-width="1.7"/><line x1="155.2" y1="310.75" x2="160" y2="310.75" stroke-width="1.7"/><line x1="155.2" y1="297.62" x2="160" y2="297.62" stroke-width="1.7"/><line x1="147" y1="284.50" x2="160" y2="284.50" stroke-width="1.8"/><line x1="155.2" y1="271.38" x2="160" y2="271.38" stroke-width="1.7"/><line x1="155.2" y1="258.25" x2="160" y2="258.25" stroke-width="1.7"/><line x1="155.2" y1="245.13" x2="160" y2="245.13" stroke-width="1.7"/><line x1="155.2" y1="232.00" x2="160" y2="232.00" stroke-width="1.7"/><line x1="147" y1="218.88" x2="160" y2="218.88" stroke-width="1.8"/><line x1="155.2" y1="205.75" x2="160" y2="205.75" stroke-width="1.7"/><line x1="155.2" y1="192.62" x2="160" y2="192.62" stroke-width="1.7"/><line x1="155.2" y1="179.50" x2="160" y2="179.50" stroke-width="1.7"/><line x1="155.2" y1="166.38" x2="160" y2="166.38" stroke-width="1.7"/><line x1="163.95" y1="551" x2="163.95" y2="564" stroke-width="2"/><line x1="186.45" y1="551" x2="186.45" y2="555.4" stroke-width="1.9"/><line x1="208.95" y1="551" x2="208.95" y2="555.4" stroke-width="1.9"/><line x1="231.45" y1="551" x2="231.45" y2="555.4" stroke-width="1.9"/><line x1="253.95" y1="551" x2="253.95" y2="555.4" stroke-width="1.9"/><line x1="276.45" y1="551" x2="276.45" y2="564" stroke-width="2"/><line x1="298.95" y1="551" x2="298.95" y2="555.4" stroke-width="1.9"/><line x1="321.45" y1="551" x2="321.45" y2="555.4" stroke-width="1.9"/><line x1="343.95" y1="551" x2="343.95" y2="555.4" stroke-width="1.9"/><line x1="366.45" y1="551" x2="366.45" y2="555.4" stroke-width="1.9"/><line x1="388.95" y1="551" x2="388.95" y2="564" stroke-width="2"/><line x1="411.45" y1="551" x2="411.45" y2="555.4" stroke-width="1.9"/><line x1="433.95" y1="551" x2="433.95" y2="555.4" stroke-width="1.9"/><line x1="456.45" y1="551" x2="456.45" y2="555.4" stroke-width="1.9"/><line x1="478.95" y1="551" x2="478.95" y2="555.4" stroke-width="1.9"/><line x1="501.45" y1="551" x2="501.45" y2="564" stroke-width="2"/><line x1="523.95" y1="551" x2="523.95" y2="555.4" stroke-width="1.9"/><line x1="546.45" y1="551" x2="546.45" y2="555.4" stroke-width="1.9"/><line x1="568.95" y1="551" x2="568.95" y2="555.4" stroke-width="1.9"/><line x1="591.45" y1="551" x2="591.45" y2="555.4" stroke-width="1.9"/><line x1="613.95" y1="551" x2="613.95" y2="564" stroke-width="2"/><line x1="636.45" y1="551" x2="636.45" y2="555.4" stroke-width="1.9"/><line x1="658.95" y1="551" x2="658.95" y2="555.4" stroke-width="1.9"/><line x1="681.45" y1="551" x2="681.45" y2="555.4" stroke-width="1.9"/><line x1="703.95" y1="551" x2="703.95" y2="555.4" stroke-width="1.9"/><line x1="726.45" y1="551" x2="726.45" y2="564" stroke-width="2"/><line x1="748.95" y1="551" x2="748.95" y2="555.4" stroke-width="1.9"/><line x1="771.45" y1="551" x2="771.45" y2="555.4" stroke-width="1.9"/><line x1="793.95" y1="551" x2="793.95" y2="555.4" stroke-width="1.9"/><line x1="816.45" y1="551" x2="816.45" y2="555.4" stroke-width="1.9"/><line x1="838.95" y1="551" x2="838.95" y2="564" stroke-width="2"/><line x1="861.45" y1="551" x2="861.45" y2="555.4" stroke-width="1.9"/><line x1="883.95" y1="551" x2="883.95" y2="555.4" stroke-width="1.9"/><line x1="906.45" y1="551" x2="906.45" y2="555.4" stroke-width="1.9"/><line x1="928.95" y1="551" x2="928.95" y2="555.4" stroke-width="1.9"/><line x1="951.45" y1="551" x2="951.45" y2="564" stroke-width="2"/></g>
<line x1="838" y1="176.3" x2="882" y2="176.3" stroke="#1a1a1a" stroke-width="1.9"/>
<line x1="838.2" y1="205.5" x2="878.2" y2="205.5" stroke="#d92a35" stroke-width="2" stroke-dasharray="6 5.25"/>
<text x="885.29" y="182.23" font-size="15.67" textLength="62.7" lengthAdjust="spacingAndGlyphs" fill="#303030" font-family="'Liberation Sans','Noto Sans CJK SC',sans-serif">实测数据</text>
<text x="885.81" y="211.41" font-size="15.54" textLength="62.2" lengthAdjust="spacingAndGlyphs" fill="#303030" font-family="'Liberation Sans','Noto Sans CJK SC',sans-serif">预测数据</text>
<text x="453.36" y="720.01" font-size="27" font-weight="bold" textLength="162.7" lengthAdjust="spacingAndGlyphs" fill="#000" font-family="'Liberation Serif','Noto Serif CJK SC',serif">预报结果曲线</text>
</svg>
<svg class="ov" width="1080" height="761" viewBox="0 0 1080 761" font-family="'Liberation Sans', sans-serif" stroke="#33343a" stroke-width="0.28">
<text x="112.51" y="160.20" font-size="19.70" textLength="28.90" lengthAdjust="spacingAndGlyphs" fill="#33343a">3.0</text>
<text x="112.24" y="225.70" font-size="19.70" textLength="29.24" lengthAdjust="spacingAndGlyphs" fill="#33343a">2.5</text>
<text x="112.24" y="291.20" font-size="19.70" textLength="29.18" lengthAdjust="spacingAndGlyphs" fill="#33343a">2.0</text>
<text x="111.67" y="356.85" font-size="19.70" textLength="29.84" lengthAdjust="spacingAndGlyphs" fill="#33343a">1.5</text>
<text x="111.67" y="422.45" font-size="19.70" textLength="29.77" lengthAdjust="spacingAndGlyphs" fill="#33343a">1.0</text>
<text x="112.49" y="488.20" font-size="19.70" textLength="28.99" lengthAdjust="spacingAndGlyphs" fill="#33343a">0.5</text>
<text x="112.49" y="553.95" font-size="19.70" textLength="28.93" lengthAdjust="spacingAndGlyphs" fill="#33343a">0.0</text>
<text x="114.00" y="591.30" font-size="19.70" textLength="99.16" lengthAdjust="spacingAndGlyphs" fill="#33343a">2018/12/01</text>
<text x="133.81" y="613.90" font-size="19.70" textLength="28.21" lengthAdjust="spacingAndGlyphs" fill="#33343a">00:</text>
<text x="172.82" y="613.90" font-size="19.70" textLength="22.57" lengthAdjust="spacingAndGlyphs" fill="#33343a">00</text>
<text x="227.78" y="591.30" font-size="19.70" textLength="101.23" lengthAdjust="spacingAndGlyphs" fill="#33343a">2018/12/07</text>
<text x="252.95" y="613.90" font-size="19.70" textLength="16.92" lengthAdjust="spacingAndGlyphs" fill="#33343a">9:</text>
<text x="282.12" y="613.90" font-size="19.70" textLength="22.57" lengthAdjust="spacingAndGlyphs" fill="#33343a">00</text>
<text x="340.29" y="591.40" font-size="19.70" textLength="100.59" lengthAdjust="spacingAndGlyphs" fill="#33343a">2018/12/13</text>
<text x="363.05" y="614.30" font-size="19.70" textLength="28.21" lengthAdjust="spacingAndGlyphs" fill="#33343a">19:</text>
<text x="400.32" y="614.30" font-size="19.70" textLength="22.57" lengthAdjust="spacingAndGlyphs" fill="#33343a">00</text>
<text x="451.58" y="592.60" font-size="19.70" textLength="101.21" lengthAdjust="spacingAndGlyphs" fill="#33343a">2018/12/20</text>
<text x="472.31" y="615.50" font-size="19.70" textLength="28.21" lengthAdjust="spacingAndGlyphs" fill="#33343a">05:</text>
<text x="510.82" y="615.50" font-size="19.70" textLength="22.57" lengthAdjust="spacingAndGlyphs" fill="#33343a">00</text>
<text x="565.28" y="593.80" font-size="19.70" textLength="101.10" lengthAdjust="spacingAndGlyphs" fill="#33343a">2018/12/26</text>
<text x="588.05" y="616.40" font-size="19.70" textLength="28.21" lengthAdjust="spacingAndGlyphs" fill="#33343a">14:</text>
<text x="625.32" y="616.40" font-size="19.70" textLength="22.57" lengthAdjust="spacingAndGlyphs" fill="#33343a">00</text>
<text x="677.79" y="592.00" font-size="19.70" textLength="100.21" lengthAdjust="spacingAndGlyphs" fill="#33343a">2019/01/02</text>
<text x="698.01" y="615.00" font-size="19.70" textLength="28.21" lengthAdjust="spacingAndGlyphs" fill="#33343a">00:</text>
<text x="736.22" y="615.00" font-size="19.70" textLength="22.57" lengthAdjust="spacingAndGlyphs" fill="#33343a">00</text>
<text x="788.98" y="591.30" font-size="19.70" textLength="101.40" lengthAdjust="spacingAndGlyphs" fill="#33343a">2019/01/08</text>
<text x="810.65" y="613.90" font-size="19.70" textLength="28.21" lengthAdjust="spacingAndGlyphs" fill="#33343a">10:</text>
<text x="848.22" y="613.90" font-size="19.70" textLength="22.57" lengthAdjust="spacingAndGlyphs" fill="#33343a">00</text>
<text x="903.98" y="592.10" font-size="19.70" textLength="101.62" lengthAdjust="spacingAndGlyphs" fill="#33343a">2019/01/14</text>
<text x="925.65" y="615.00" font-size="19.70" textLength="28.21" lengthAdjust="spacingAndGlyphs" fill="#33343a">19:</text>
<text x="963.22" y="615.00" font-size="19.70" textLength="22.57" lengthAdjust="spacingAndGlyphs" fill="#33343a">00</text>
</svg>
</body>
</html>
